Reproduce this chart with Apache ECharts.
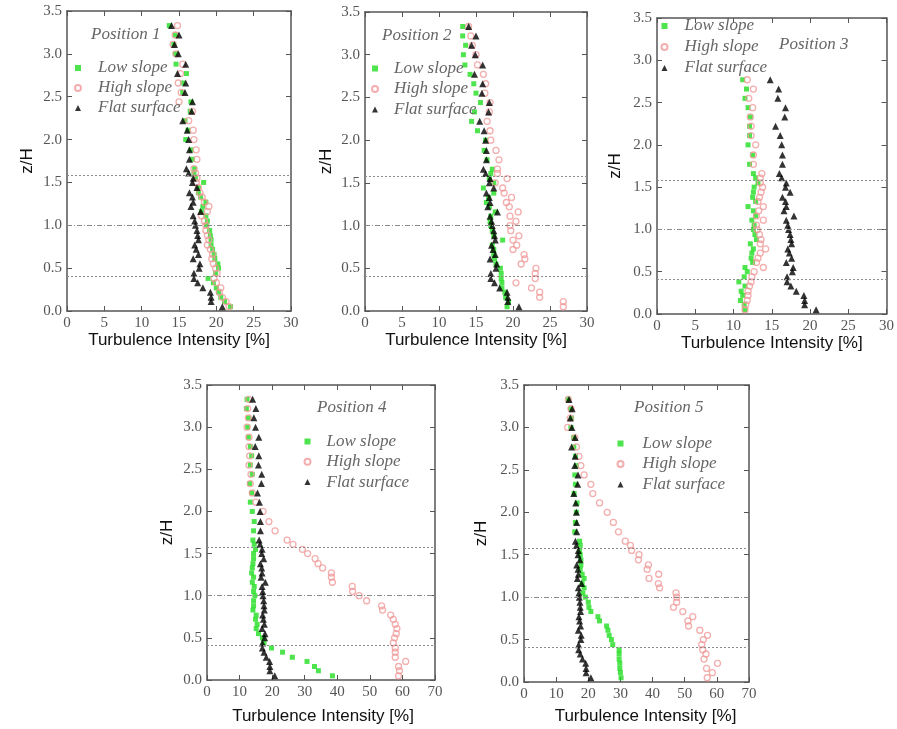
<!DOCTYPE html>
<html>
<head>
<meta charset="utf-8">
<script src="https://cdn.jsdelivr.net/npm/echarts@6/dist/echarts.min.js"></script>
<style>
  html, body { margin: 0; padding: 0; background: #ffffff; }
  #chart { width: 897px; height: 729px; }
</style>
</head>
<body>
<div id="chart"></div>
<script>
// Measurement heights z/H shared by every profile
const zLevels = [0.05, 0.11, 0.16, 0.22, 0.27, 0.33, 0.38, 0.44, 0.50, 0.55,
                 0.61, 0.66, 0.72, 0.77, 0.83, 0.88, 0.94, 1.00, 1.05, 1.11,
                 1.16, 1.22, 1.27, 1.33, 1.38, 1.44, 1.50, 1.55, 1.61, 1.66,
                 1.77, 1.88, 2.00, 2.11, 2.22, 2.33, 2.44, 2.55, 2.66, 2.77,
                 2.88, 3.00, 3.11, 3.22, 3.33];

// Turbulence intensity [%] over the flat surface (reference profile)
const flatSurface = [20.8, 19.3, 19.3, 19.2, 18.2, 17.5, 17.0, 17.0, 17.7, 17.8,
                     16.9, 17.6, 17.3, 17.1, 17.6, 17.5, 17.4, 17.2, 17.1, 16.9,
                     17.9, 16.6, 16.9, 16.8, 16.4, 17.4, 16.8, 16.9, 16.3, 16.0,
                     16.4, 16.4, 16.3, 16.1, 15.5, 16.7, 16.8, 15.8, 15.9, 14.8,
                     15.9, 14.9, 14.4, 15.0, 14.0];

// Position 1
const lowSlope1 = [21.9, 21.1, 20.6, 20.3, 20.0, 19.6, 18.9, 19.9, 20.3, 20.2,
                   19.8, 19.7, 19.5, 19.3, 19.3, 19.2, 19.1, 18.7, 18.8, 18.6,
                   18.0, 18.2, 18.6, 17.9, 17.6, 17.6, 18.3, 17.2, 17.0, 17.1,
                   16.8, 16.6, 15.9, 16.2, 15.8, 16.5, 16.6, 15.5, 15.5, 16.0,
                   14.6, 14.5, 14.3, 14.5, 13.7];
const highSlope1 = [21.7, 21.3, 20.8, 20.4, 20.6, 20.0, 19.7, 20.1, 19.9, 19.6,
                    19.4, 19.5, 19.2, 18.8, 19.0, 18.8, 18.6, 18.6, 18.4, 18.0,
                    18.8, 19.0, 18.4, 18.1, 17.8, 17.6, 17.3, 17.4, 17.2, 17.0,
                    17.4, 17.3, 17.0, 16.9, 16.3, 16.8, 15.0, 15.3, 14.9, 15.2,
                    15.5, 14.6, 14.2, 14.5, 14.8];

// Position 2
const lowSlope2 = [19.2, 19.4, 19.0, 18.9, 18.5, 18.5, 18.4, 18.4, 18.3, 17.7,
                   17.5, 17.4, 17.4, 17.2, 18.6, 17.4, 17.2, 17.0, 16.9, 17.0,
                   17.6, 16.8, 16.4, 16.7, 17.4, 16.0, 17.4, 16.8, 17.0, 17.2,
                   16.5, 16.1, 16.3, 15.2, 14.4, 14.8, 15.6, 15.0, 14.7, 14.2,
                   13.5, 13.3, 13.6, 13.2, 13.2];
const highSlope2 = [26.8, 26.8, 23.6, 23.6, 22.5, 20.4, 23.0, 23.0, 23.1, 21.1,
                    21.6, 21.5, 20.0, 20.5, 20.0, 20.8, 19.7, 19.6, 20.4, 19.6,
                    20.7, 19.5, 19.1, 19.8, 18.8, 18.6, 17.6, 19.2, 17.9, 17.9,
                    18.1, 17.7, 17.0, 16.9, 16.5, 16.8, 16.9, 16.2, 16.3, 16.0,
                    15.2, 15.0, 14.5, 14.3, 14.0];

// Position 3 (profiles stop at z/H = 2.77)
const lowSlope3 = [11.5, 11.4, 10.9, 11.2, 11.0, 11.5, 10.7, 11.4, 11.8, 11.5,
                   12.5, 12.3, 12.4, 12.6, 12.2, 13.0, 12.8, 12.6, 12.7, 12.4,
                   12.9, 12.6, 11.9, 12.9, 12.5, 12.6, 12.7, 13.2, 12.9, 12.6,
                   12.1, 12.5, 11.9, 12.1, 12.1, 12.2, 11.9, 11.5, 11.7, 11.2];
const highSlope3 = [11.5, 11.6, 11.8, 11.9, 11.9, 12.1, 12.3, 12.4, 12.7, 13.9,
                    13.0, 13.2, 13.5, 14.2, 13.5, 13.6, 13.4, 13.1, 13.0, 13.9,
                    13.0, 13.3, 13.9, 13.2, 13.4, 13.6, 13.8, 13.5, 13.5, 13.7,
                    12.6, 12.6, 12.9, 12.3, 12.3, 12.2, 12.5, 12.0, 12.6, 11.8];

// Position 4
const lowSlope4 = [38.5, 34.2, 33.0, 30.7, 26.2, 23.2, 19.8, 17.5, 17.0, 15.8,
                   15.1, 15.4, 14.9, 15.1, 14.1, 14.3, 14.3, 14.7, 14.3, 14.5,
                   13.9, 14.3, 13.7, 13.9, 14.1, 14.3, 14.3, 14.9, 14.5, 14.1,
                   14.3, 14.5, 13.9, 13.3, 13.7, 13.1, 13.9, 13.3, 13.7, 13.3,
                   12.7, 12.5, 12.7, 12.1, 12.3];
const highSlope4 = [58.8, 59.1, 58.8, 61.0, 57.8, 57.8, 57.8, 57.2, 57.6, 58.1,
                    58.3, 57.8, 57.2, 56.4, 53.9, 53.6, 49.0, 46.7, 44.7, 44.6,
                    38.5, 38.2, 38.2, 35.5, 34.1, 33.2, 30.9, 29.3, 26.4, 24.6,
                    20.9, 19.0, 17.2, 15.0, 13.9, 13.3, 13.5, 12.9, 13.1, 12.9,
                    12.9, 12.3, 12.7, 12.5, 12.8];

// Position 5
const lowSlope5 = [30.2, 30.0, 29.8, 29.8, 29.6, 29.6, 29.6, 27.6, 27.2, 26.5,
                   26.1, 25.7, 23.5, 23.0, 20.8, 20.2, 20.0, 19.1, 18.3, 18.7,
                   18.1, 18.7, 18.1, 17.5, 17.7, 17.7, 17.5, 17.3, 17.5, 17.3,
                   15.8, 16.0, 16.3, 16.5, 15.6, 16.0, 15.8, 16.3, 16.0, 15.5,
                   15.4, 14.6, 14.8, 14.5, 13.8];
const highSlope5 = [57.0, 58.6, 56.8, 60.2, 56.0, 56.6, 55.6, 55.3, 55.8, 57.1,
                    54.7, 51.2, 51.0, 52.5, 49.4, 46.5, 47.5, 47.5, 47.3, 42.2,
                    41.8, 38.9, 41.9, 38.3, 38.7, 35.6, 35.8, 33.5, 33.1, 31.5,
                    29.4, 27.8, 25.9, 23.5, 21.4, 20.8, 18.7, 17.7, 17.1, 16.3,
                    15.8, 13.6, 14.4, 14.6, 13.8];

// Horizontal reference heights (dotted lines)
const refHeights = [0.41, 1.0, 1.58];

const panelTitles = ['Position 1', 'Position 2', 'Position 3', 'Position 4', 'Position 5'];
const seriesNames = ['Low slope', 'High slope', 'Flat surface'];
const xAxisTitle = 'Turbulence Intensity [%]';
const yAxisTitle = 'z/H';

// Layout and styling of each panel
const panels = [
  { title: panelTitles[0], low: lowSlope1, high: highSlope1, count: 45, xMax: 30, xStep: 5,
    grid: { left: 67, top: 11, width: 224, height: 300 },
    titlePos: { left: 91, top: 26.5 }, legendPos: { left: 74, top: 59.5 }, legendPad: 12, legendGap: 3,
    xNameGap: 21, yNameGap: 31.5, xNameShift: 0 },
  { title: panelTitles[1], low: lowSlope2, high: highSlope2, count: 45, xMax: 30, xStep: 5,
    grid: { left: 365, top: 12, width: 222, height: 299 },
    titlePos: { left: 382, top: 27.5 }, legendPos: { left: 371, top: 60 }, legendPad: 11, legendGap: 3.5,
    xNameGap: 21, yNameGap: 30, xNameShift: 0 },
  { title: panelTitles[2], low: lowSlope3, high: highSlope3, count: 40, xMax: 30, xStep: 5,
    grid: { left: 657, top: 18, width: 232, height: 296 },
    titlePos: { left: 779, top: 36.5 }, legendPos: { left: 660.5, top: 17.5 }, legendPad: 12, legendGap: 4,
    xNameGap: 19, yNameGap: 33.5, xNameShift: 0 },
  { title: panelTitles[3], low: lowSlope4, high: highSlope4, count: 45, xMax: 70, xStep: 10,
    grid: { left: 207, top: 385, width: 228, height: 295 },
    titlePos: { left: 317, top: 399 }, legendPos: { left: 303.5, top: 433 }, legendPad: 11, legendGap: 3.3,
    xNameGap: 28, yNameGap: 31.5, xNameShift: 4 },
  { title: panelTitles[4], low: lowSlope5, high: highSlope5, count: 45, xMax: 70, xStep: 10,
    grid: { left: 524, top: 385, width: 225, height: 297 },
    titlePos: { left: 634, top: 399.5 }, legendPos: { left: 616.5, top: 435 }, legendPad: 14, legendGap: 3.5,
    xNameGap: 26, yNameGap: 34, xNameShift: 18 }
];

const frameColor = '#555';
const tickFont = 'Liberation Serif';
const noteColor = '#666';

const lowStyle = { symbol: 'rect', symbolSize: 5, itemStyle: { color: '#22dd22' } };
const highStyle = { symbol: 'circle', symbolSize: 6,
  itemStyle: { color: 'rgba(255,255,255,0)', borderColor: '#f09a9a', borderWidth: 1.3 } };
const flatStyle = { symbol: 'triangle', symbolSize: 7, itemStyle: { color: '#000' } };

function profile(values, count) {
  return values.slice(0, count).map((v, i) => [v, zLevels[i]]);
}

const option = {
  animation: false,
  backgroundColor: '#ffffff',
  grid: [], xAxis: [], yAxis: [], series: [], title: [], legend: []
};

panels.forEach((p, i) => {
  option.grid.push(Object.assign({ containLabel: false }, p.grid));

  const tick = { show: true, inside: true, length: 5, lineStyle: { color: frameColor, width: 1 } };
  const line = { show: true, onZero: false, lineStyle: { color: frameColor, width: 1.5 } };

  // bottom axis with labels, top axis as mirrored frame
  option.xAxis.push({
    gridIndex: i, type: 'value', position: 'bottom', min: 0, max: p.xMax, interval: p.xStep,
    axisLine: line, axisTick: tick, splitLine: { show: false },
    axisLabel: { fontFamily: tickFont, fontSize: 15, color: '#555', margin: 5 },
    name: xAxisTitle, nameLocation: 'middle', nameGap: p.xNameGap,
    nameTextStyle: { fontFamily: 'Liberation Sans', fontSize: 17, color: '#111',
                     padding: [0, 0, 0, p.xNameShift] }
  });
  option.xAxis.push({
    gridIndex: i, type: 'value', position: 'top', min: 0, max: p.xMax, interval: p.xStep,
    axisLine: line, axisTick: tick, splitLine: { show: false }, axisLabel: { show: false }
  });

  option.yAxis.push({
    gridIndex: i, type: 'value', position: 'left', min: 0, max: 3.5, interval: 0.5,
    axisLine: line, axisTick: tick, splitLine: { show: false },
    axisLabel: { fontFamily: tickFont, fontSize: 15, color: '#555', margin: 5,
                 formatter: v => v.toFixed(1) },
    name: yAxisTitle, nameLocation: 'middle', nameGap: p.yNameGap, nameRotate: 90,
    nameTextStyle: { fontFamily: 'Liberation Sans', fontSize: 17, color: '#111' }
  });
  option.yAxis.push({
    gridIndex: i, type: 'value', position: 'right', min: 0, max: 3.5, interval: 0.5,
    axisLine: line, axisTick: tick, splitLine: { show: false }, axisLabel: { show: false }
  });

  const xIdx = i * 2, yIdx = i * 2;

  option.series.push(Object.assign({
    type: 'scatter', name: seriesNames[0], xAxisIndex: xIdx, yAxisIndex: yIdx,
    data: profile(p.low, p.count)
  }, lowStyle));
  option.series.push(Object.assign({
    type: 'scatter', name: seriesNames[1], xAxisIndex: xIdx, yAxisIndex: yIdx,
    data: profile(p.high, p.count)
  }, highStyle));
  option.series.push(Object.assign({
    type: 'scatter', name: seriesNames[2], xAxisIndex: xIdx, yAxisIndex: yIdx,
    data: profile(flatSurface, p.count),
    markLine: {
      silent: true, symbol: 'none', label: { show: false },
      lineStyle: { color: '#8a8a8a', width: 1, type: [2, 2] },
      data: refHeights.map(h => ({
        yAxis: h,
        lineStyle: h === 1.0 ? { type: [5, 2, 1, 2], color: '#8a8a8a', width: 1 } : undefined
      }))
    }
  }, flatStyle));

  option.title.push({
    text: p.title, left: p.titlePos.left, top: p.titlePos.top, padding: 0,
    textStyle: { fontFamily: tickFont, fontStyle: 'italic', fontWeight: 'normal',
                 fontSize: 17, lineHeight: 17, color: noteColor }
  });

  option.legend.push({
    data: seriesNames, orient: 'vertical', left: p.legendPos.left, top: p.legendPos.top,
    padding: 0, itemWidth: 6, itemHeight: 6, itemGap: p.legendGap, selectedMode: false,
    textStyle: { fontFamily: tickFont, fontStyle: 'italic', fontSize: 17, lineHeight: 17,
                 color: noteColor, padding: [0, 0, 0, p.legendPad] }
  });
});

const chart = echarts.init(document.getElementById('chart'), null, { renderer: 'canvas' });
chart.setOption(option);
</script>
</body>
</html>
